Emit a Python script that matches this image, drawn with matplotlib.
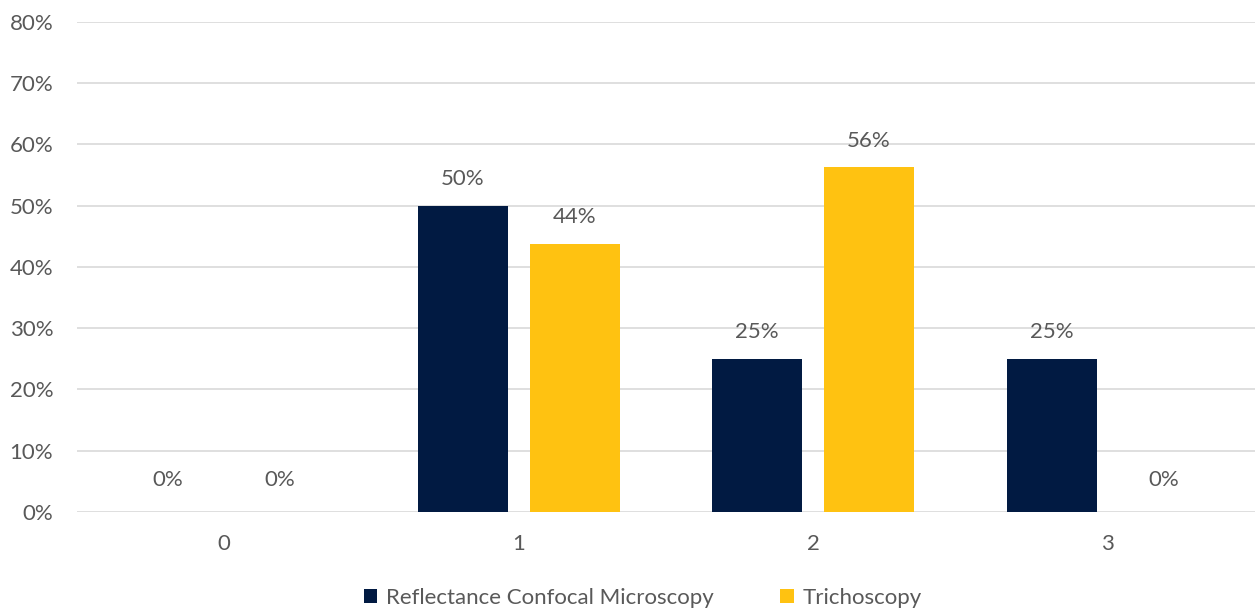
import numpy as np
import matplotlib.pyplot as plt
from matplotlib.ticker import FuncFormatter

plt.rcParams['font.family'] = ['Lato', 'DejaVu Sans']

categories = ['0', '1', '2', '3']
rcm = [0.0, 0.50, 0.25, 0.25]
tricho = [0.0, 0.4375, 0.5625, 0.0]
rcm_labels = ['0%', '50%', '25%', '25%']
tricho_labels = ['0%', '44%', '56%', '0%']

navy = '#011A42'
gold = '#FFC211'
grey_txt = '#595959'
fs = 16

fig = plt.figure(figsize=(12.6, 6.1), dpi=100)
ax = fig.add_axes([0.061, 0.161, 0.935, 0.803])

x = np.arange(len(categories))
w = 0.305
off = 0.19
b1 = ax.bar(x - off, rcm, w, color=navy, label='Reflectance Confocal Microscopy', zorder=3)
b2 = ax.bar(x + off, tricho, w, color=gold, label='Trichoscopy', zorder=3)

for bars, labs in ((b1, rcm_labels), (b2, tricho_labels)):
    for r, lab in zip(bars, labs):
        h = r.get_height()
        dy = 12 if h > 0 else 16
        ax.annotate(lab, (r.get_x() + r.get_width() / 2, h), xytext=(0, dy),
                    textcoords='offset points', ha='center', va='bottom',
                    fontsize=fs, color=grey_txt)

ax.set_ylim(0, 0.8)
ax.set_yticks(np.arange(0, 0.81, 0.1))
ax.yaxis.set_major_formatter(FuncFormatter(lambda v, p: '{:.0f}%'.format(v * 100)))
ax.set_xlim(-0.5, 3.5)
ax.set_xticks(x)
ax.set_xticklabels(categories)
ax.grid(axis='y', color='#D9D9D9', linewidth=1.2, zorder=0)
for s in ax.spines.values():
    s.set_visible(False)
ax.tick_params(length=0, labelsize=fs, colors=grey_txt)
ax.tick_params(axis='y', pad=17)
ax.tick_params(axis='x', pad=16)

fig.legend(loc='center', bbox_to_anchor=(0.51, 0.02), ncol=2, frameon=False,
           fontsize=fs, handlelength=0.6, handleheight=0.6, columnspacing=3.0,
           handletextpad=0.4, labelcolor=grey_txt)

fig.savefig('out.png', dpi=100)
